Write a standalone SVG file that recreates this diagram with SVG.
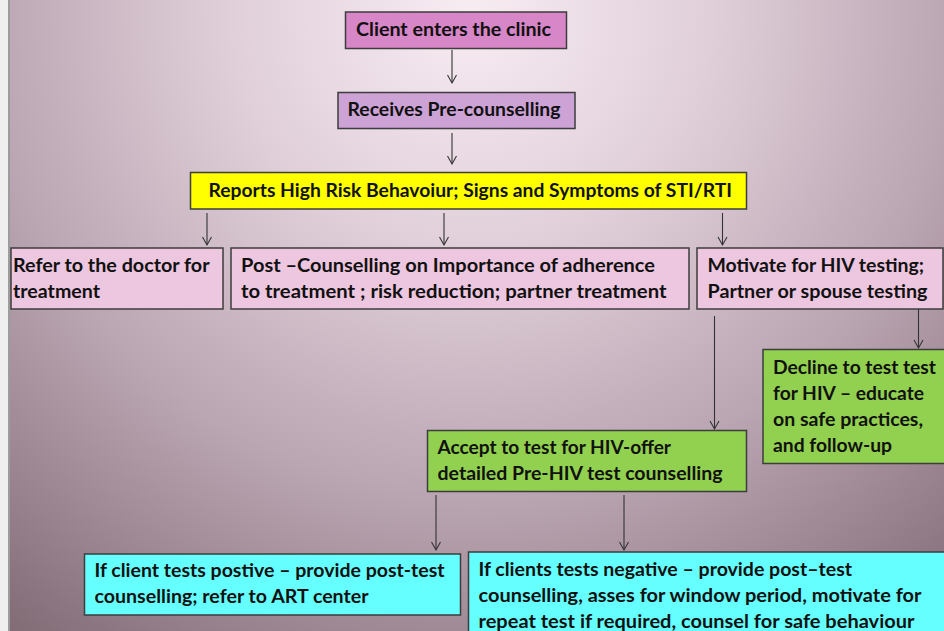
<svg xmlns="http://www.w3.org/2000/svg" width="944" height="631" viewBox="0 0 944 631">
<defs>
<radialGradient id="bg" gradientUnits="userSpaceOnUse" cx="470" cy="10" r="800">
<stop offset="0" stop-color="#f8ecf3"/>
<stop offset="0.3" stop-color="#e0cfd9"/>
<stop offset="0.6" stop-color="#bba6b3"/>
<stop offset="1" stop-color="#7c6670"/>
</radialGradient>
<marker id="ah" markerUnits="userSpaceOnUse" markerWidth="12" markerHeight="12" refX="9" refY="5" orient="auto" viewBox="0 0 12 10">
<path d="M1,0.5 L9,5 L1,9.5" fill="none" stroke="#333" stroke-width="1.1"/>
</marker>
<style>
.bx{stroke:#3d3d3d;stroke-width:1.5}
.t{font-family:Lato,"Open Sans","Liberation Sans",sans-serif;font-weight:bold;font-size:18px;fill:#111}
.c{stroke:#333;stroke-width:1.1;fill:none;marker-end:url(#ah)}
</style>
</defs>
<rect x="0" y="0" width="944" height="631" fill="url(#bg)"/>
<rect x="0" y="0" width="8" height="631" fill="#efefef"/>
<line x1="9" y1="0" x2="9" y2="631" stroke="#9c9c9c" stroke-width="2"/>

<g id="connectors">
<line class="c" x1="452" y1="50" x2="452" y2="83"/>
<line class="c" x1="452" y1="133" x2="452" y2="164"/>
<line class="c" x1="207" y1="213" x2="207" y2="245"/>
<line class="c" x1="444" y1="213" x2="444" y2="245"/>
<line class="c" x1="722.5" y1="213" x2="722.5" y2="245"/>
<line class="c" x1="714.5" y1="316" x2="714.5" y2="429"/>
<line class="c" x1="918.5" y1="309" x2="918.5" y2="348"/>
<line class="c" x1="436" y1="495" x2="436" y2="550"/>
<line class="c" x1="624" y1="495" x2="624" y2="550"/>
</g>

<g id="n-client">
<rect class="bx" x="345.5" y="12" width="221" height="36.5" fill="#d787c7"/>
<text class="t" x="356" y="36" textLength="195" lengthAdjust="spacingAndGlyphs">Client enters the clinic</text>
</g>
<g id="n-precounsel">
<rect class="bx" x="338" y="92.5" width="237" height="36" fill="#cda3d6"/>
<text class="t" x="347.5" y="116" textLength="213" lengthAdjust="spacingAndGlyphs">Receives Pre-counselling</text>
</g>
<g id="n-risk">
<rect class="bx" x="190.5" y="172.5" width="556" height="36.5" fill="#ffff00"/>
<text class="t" x="208.5" y="197" textLength="523.5" lengthAdjust="spacingAndGlyphs">Reports High Risk Behavoiur; Signs and Symptoms of STI/RTI</text>
</g>
<g id="n-doctor">
<rect class="bx" x="11" y="248" width="212" height="61" fill="#edc6df"/>
<text class="t" x="13" y="272" textLength="196.5" lengthAdjust="spacingAndGlyphs">Refer to the doctor for</text>
<text class="t" x="13" y="298" textLength="87" lengthAdjust="spacingAndGlyphs">treatment</text>
</g>
<g id="n-post">
<rect class="bx" x="231" y="248" width="458" height="61" fill="#edc6df"/>
<text class="t" x="241" y="272" textLength="414" lengthAdjust="spacingAndGlyphs">Post –Counselling on Importance  of adherence</text>
<text class="t" x="241" y="298" textLength="425.5" lengthAdjust="spacingAndGlyphs">to treatment ; risk  reduction; partner treatment</text>
</g>
<g id="n-motivate">
<rect class="bx" x="697" y="248" width="246" height="61" fill="#edc6df"/>
<text class="t" x="707.5" y="272" textLength="216.5" lengthAdjust="spacingAndGlyphs">Motivate for HIV testing;</text>
<text class="t" x="707.5" y="298" textLength="220" lengthAdjust="spacingAndGlyphs">Partner or spouse testing</text>
</g>
<g id="n-decline">
<rect class="bx" x="763" y="349.5" width="185" height="114" fill="#92d050"/>
<text class="t" x="773" y="374" textLength="163" lengthAdjust="spacingAndGlyphs">Decline to test test</text>
<text class="t" x="773" y="400" textLength="151" lengthAdjust="spacingAndGlyphs">for HIV – educate</text>
<text class="t" x="773" y="426" textLength="150" lengthAdjust="spacingAndGlyphs">on safe practices,</text>
<text class="t" x="773" y="452" textLength="119" lengthAdjust="spacingAndGlyphs">and follow-up</text>
</g>
<g id="n-accept">
<rect class="bx" x="427.5" y="430.5" width="319" height="61" fill="#92d050"/>
<text class="t" x="437.5" y="454" textLength="233.5" lengthAdjust="spacingAndGlyphs">Accept to test for HIV-offer</text>
<text class="t" x="437.5" y="480" textLength="285" lengthAdjust="spacingAndGlyphs">detailed Pre-HIV test counselling</text>
</g>
<g id="n-positive">
<rect class="bx" x="84.5" y="554" width="376" height="61" fill="#66ffff"/>
<text class="t" x="94.5" y="577" textLength="350" lengthAdjust="spacingAndGlyphs">If client tests postive – provide post-test</text>
<text class="t" x="94.5" y="603" textLength="274" lengthAdjust="spacingAndGlyphs">counselling; refer to ART center</text>
</g>
<g id="n-negative">
<rect class="bx" x="468.5" y="552" width="480" height="90" fill="#66ffff"/>
<text class="t" x="478.5" y="576" textLength="373.5" lengthAdjust="spacingAndGlyphs">If clients tests negative – provide post–test</text>
<text class="t" x="478.5" y="602" textLength="443" lengthAdjust="spacingAndGlyphs">counselling, asses for window period, motivate for</text>
<text class="t" x="478.5" y="628" textLength="436" lengthAdjust="spacingAndGlyphs">repeat test if required, counsel for safe behaviour</text>
</g>
</svg>
